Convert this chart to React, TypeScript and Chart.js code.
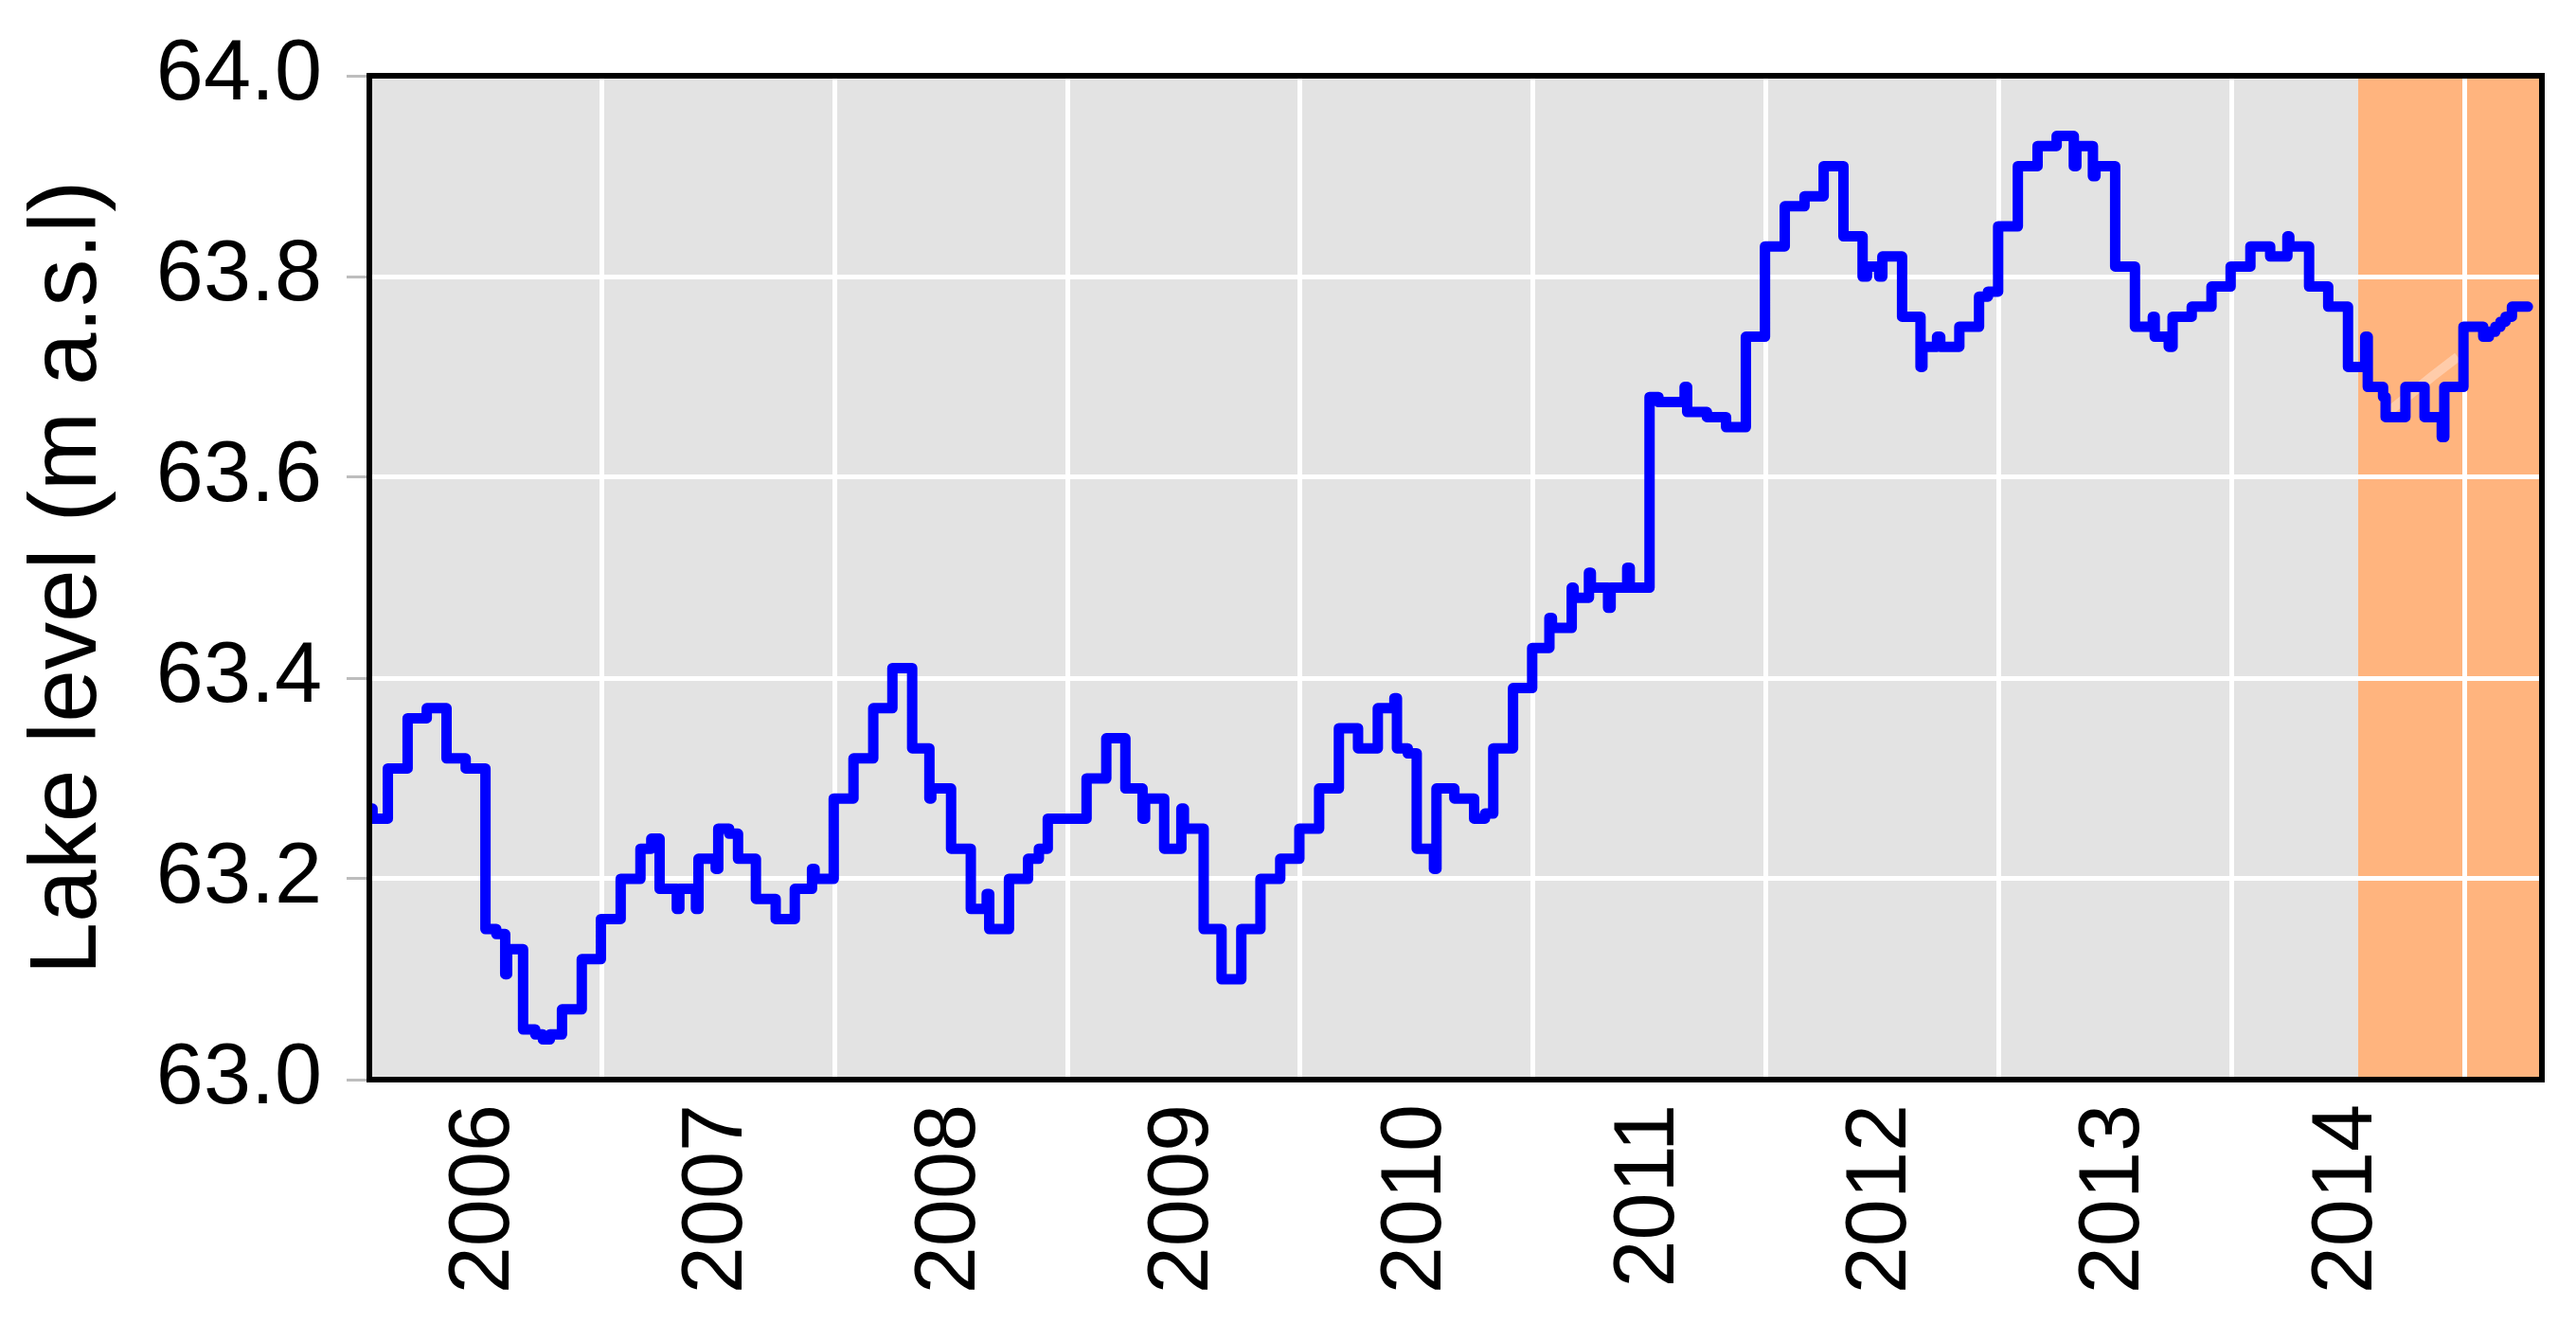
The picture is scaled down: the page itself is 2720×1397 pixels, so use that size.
import React, { useEffect, useRef } from 'react';
import { Chart, registerables } from 'chart.js';

Chart.register(...registerables);

// ---------- data ----------
const LEVEL_DATES = [
  '2005-07-01', '2005-07-08', '2005-08-01', '2005-09-01', '2005-10-01', '2005-11-01', '2005-12-01',
  '2006-01-01', '2006-01-18', '2006-02-01', '2006-02-04', '2006-03-01', '2006-03-20', '2006-04-01', '2006-04-12',
  '2006-05-01', '2006-06-01', '2006-07-01', '2006-08-01', '2006-09-01', '2006-09-18', '2006-10-01', '2006-10-28',
  '2006-11-01', '2006-11-27', '2006-12-01', '2006-12-28',
  '2007-01-01', '2007-01-18', '2007-02-01', '2007-03-01', '2007-04-01', '2007-05-01', '2007-05-28', '2007-06-01',
  '2007-07-01', '2007-08-01', '2007-09-01', '2007-10-01', '2007-11-01', '2007-11-28', '2007-12-01',
  '2008-01-01', '2008-02-01', '2008-02-26', '2008-03-01', '2008-04-01', '2008-05-01', '2008-05-18', '2008-06-01',
  '2008-07-01', '2008-08-01', '2008-09-01', '2008-10-01', '2008-10-28', '2008-11-01', '2008-12-01', '2008-12-28',
  '2009-01-01', '2009-02-01', '2009-03-01', '2009-04-01', '2009-05-01', '2009-06-01', '2009-07-01', '2009-08-01',
  '2009-09-01', '2009-10-01', '2009-11-01', '2009-11-27', '2009-12-01', '2009-12-18',
  '2010-01-01', '2010-01-28', '2010-02-01', '2010-03-01', '2010-04-01', '2010-04-18', '2010-05-01', '2010-06-01',
  '2010-07-01', '2010-07-28', '2010-08-01', '2010-09-01', '2010-09-04', '2010-09-28', '2010-10-01', '2010-10-28',
  '2010-11-01', '2010-11-27', '2010-12-01',
  '2011-01-01', '2011-01-15', '2011-02-01', '2011-02-25', '2011-03-01', '2011-04-01', '2011-05-01', '2011-06-01',
  '2011-07-01', '2011-08-01', '2011-09-01', '2011-10-01', '2011-11-01', '2011-12-01', '2011-12-08', '2011-12-27',
  '2012-01-01', '2012-02-01', '2012-03-01', '2012-03-04', '2012-03-27', '2012-04-01', '2012-05-01', '2012-06-01',
  '2012-06-15', '2012-07-01', '2012-08-01', '2012-09-01', '2012-10-01', '2012-10-28', '2012-11-01', '2012-11-27',
  '2012-12-01',
  '2013-01-01', '2013-02-01', '2013-03-01', '2013-03-04', '2013-03-26', '2013-04-01', '2013-05-01', '2013-06-01',
  '2013-07-01', '2013-08-01', '2013-09-01', '2013-09-28', '2013-10-01', '2013-11-01', '2013-12-01',
  '2014-01-01', '2014-01-28', '2014-02-01', '2014-02-25', '2014-03-01', '2014-04-01', '2014-05-01', '2014-05-28',
  '2014-06-01', '2014-07-01', '2014-08-01', '2014-08-10', '2014-08-20', '2014-08-28', '2014-09-05', '2014-09-15',
  '2014-10-10',
];

const LEVELS = [
  63.27, 63.26, 63.31, 63.36, 63.37, 63.32, 63.31,
  63.15, 63.145, 63.105, 63.13, 63.05, 63.045, 63.04, 63.045,
  63.07, 63.12, 63.16, 63.20, 63.23, 63.24, 63.19, 63.17,
  63.19, 63.17, 63.22, 63.21,
  63.25, 63.245, 63.22, 63.18, 63.16, 63.19, 63.21, 63.20,
  63.28, 63.32, 63.37, 63.41, 63.33, 63.28, 63.29,
  63.23, 63.17, 63.185, 63.15, 63.20, 63.22, 63.23, 63.26,
  63.26, 63.30, 63.34, 63.29, 63.26, 63.28, 63.23, 63.27,
  63.25, 63.15, 63.10, 63.15, 63.20, 63.22, 63.25, 63.29,
  63.35, 63.33, 63.37, 63.38, 63.33, 63.325,
  63.23, 63.21, 63.29, 63.28, 63.26, 63.265, 63.33, 63.39,
  63.43, 63.46, 63.45, 63.49, 63.48, 63.505, 63.49, 63.47,
  63.49, 63.51, 63.49,
  63.68, 63.675, 63.675, 63.69, 63.665, 63.66, 63.65, 63.74,
  63.83, 63.87, 63.88, 63.91, 63.84, 63.80, 63.81, 63.80,
  63.82, 63.76, 63.71, 63.73, 63.74, 63.73, 63.75, 63.78,
  63.785, 63.85, 63.91, 63.93, 63.94, 63.91, 63.93, 63.90,
  63.91,
  63.81, 63.75, 63.76, 63.74, 63.73, 63.76, 63.77, 63.79,
  63.81, 63.83, 63.82, 63.84, 63.83, 63.79, 63.77,
  63.71, 63.74, 63.69, 63.68, 63.66, 63.69, 63.66, 63.64,
  63.69, 63.75, 63.74, 63.745, 63.75, 63.755, 63.76, 63.77,
  63.77,
];

// faint (light peach) trace visible under the blue line in 2014
const FAINT_DATES = ['2014-03-05', '2014-05-12', '2014-06-22'];
const FAINT_LEVELS = [63.665, 63.70, 63.72];

const YEAR_TICKS = [2006, 2007, 2008, 2009, 2010, 2011, 2012, 2013, 2014];
const YEAR_GRID = [2006.5, 2007.5, 2008.5, 2009.5, 2010.5, 2011.5, 2012.5, 2013.5, 2014.5];
const Y_GRID = [63.0, 63.1, 63.2, 63.3, 63.4, 63.5, 63.6, 63.7, 63.8, 63.9, 64.0];
const Y_LABELS = ['63.0', '63.2', '63.4', '63.6', '63.8', '64.0'];
const X_MIN_DATE = '2005-07-03';
const X_MAX_DATE = '2014-11-01';
const HIGHLIGHT_START_DATE = '2014-01-17';
const Y_TITLE = 'Lake level (m a.s.l)';

// ---------- styles ----------
const FONT = "'Liberation Sans', Arial, sans-serif";
const PANEL_GRAY = '#E3E3E3';
const HIGHLIGHT = '#FFB47E';
const LINE_BLUE = '#0000FF';
const FAINT_COLOR = 'rgb(255,204,170)';

function toDecimalYear(s: string): number {
  const [y, m, d] = s.split('-').map(Number);
  const start = Date.UTC(y, 0, 1);
  const end = Date.UTC(y + 1, 0, 1);
  return y + (Date.UTC(y, m - 1, d) - start) / (end - start);
}

export default function App() {
  const ref = useRef<HTMLCanvasElement>(null);

  useEffect(() => {
    document.body.style.margin = '0';
    const canvas = ref.current;
    if (!canvas) return;
    const xMin = toDecimalYear(X_MIN_DATE);
    const xMax = toDecimalYear(X_MAX_DATE);
    const hlStart = toDecimalYear(HIGHLIGHT_START_DATE);

    const panelPlugin = {
      id: 'panelPlugin',
      beforeDraw(chart: any) {
        const { ctx, chartArea: a, scales } = chart;
        ctx.save();
        ctx.fillStyle = PANEL_GRAY;
        ctx.fillRect(a.left, a.top, a.right - a.left, a.bottom - a.top);
        const hx = scales.x.getPixelForValue(hlStart);
        ctx.fillStyle = HIGHLIGHT;
        ctx.fillRect(hx, a.top, a.right - hx, a.bottom - a.top);
        ctx.restore();
      },
      afterDraw(chart: any) {
        const { ctx, chartArea: a } = chart;
        ctx.save();
        ctx.strokeStyle = '#000';
        ctx.lineWidth = 6;
        ctx.strokeRect(a.left, a.top, a.right - a.left, a.bottom - a.top);
        ctx.restore();
      },
    };

    const chart = new Chart(canvas, {
      type: 'line',
      data: {
        datasets: [
          {
            data: LEVEL_DATES.map((d, i) => ({ x: toDecimalYear(d), y: LEVELS[i] })),
            stepped: true,
            borderColor: LINE_BLUE,
            borderWidth: 11,
            pointRadius: 0,
            fill: false,
            borderJoinStyle: 'round',
            borderCapStyle: 'round',
            xAxisID: 'x',
            yAxisID: 'y',
          },
          {
            data: FAINT_DATES.map((d, i) => ({ x: toDecimalYear(d), y: FAINT_LEVELS[i] })),
            borderColor: FAINT_COLOR,
            borderWidth: 10,
            pointRadius: 0,
            fill: false,
            xAxisID: 'x',
            yAxisID: 'y',
          },
        ],
      },
      options: {
        animation: false,
        responsive: false,
        devicePixelRatio: 1,
        layout: { padding: { top: 73, right: 36, bottom: 0, left: 0 } },
        plugins: { legend: { display: false }, tooltip: { enabled: false } },
        scales: {
          x: {
            type: 'linear',
            position: 'bottom',
            min: xMin,
            max: xMax,
            afterBuildTicks: (s: any) => {
              s.ticks = YEAR_TICKS.map((v) => ({ value: v }));
            },
            afterFit: (s: any) => {
              s.height = 257;
            },
            grid: { display: false },
            border: { display: false },
            ticks: {
              autoSkip: false,
              minRotation: 90,
              maxRotation: 90,
              padding: 18,
              color: '#000',
              font: { family: FONT, size: 90 },
              callback: (v: any) => String(v),
            },
          },
          x2: {
            type: 'linear',
            position: 'bottom',
            min: xMin,
            max: xMax,
            afterBuildTicks: (s: any) => {
              s.ticks = YEAR_GRID.map((v) => ({ value: v }));
            },
            afterFit: (s: any) => {
              s.height = 0;
            },
            ticks: { display: false },
            grid: { color: '#FFFFFF', lineWidth: 5, drawTicks: false },
            border: { display: false },
          },
          y: {
            type: 'linear',
            min: 63,
            max: 64,
            afterBuildTicks: (s: any) => {
              s.ticks = Y_GRID.map((v) => ({ value: v }));
            },
            afterFit: (s: any) => {
              s.width = 390;
            },
            grid: {
              color: '#FFFFFF',
              lineWidth: 5,
              tickLength: 24,
              tickWidth: 3,
              tickColor: (c: any) =>
                c.tick && Y_LABELS.includes(Number(c.tick.value).toFixed(1)) ? '#BDBDBD' : '#333333',
            },
            border: { display: false },
            ticks: {
              padding: 26,
              color: '#000',
              font: { family: FONT, size: 90 },
              callback: (v: any) => {
                const s = Number(v).toFixed(1);
                return Y_LABELS.includes(s) ? s : '';
              },
            },
            title: {
              display: true,
              text: Y_TITLE,
              color: '#000',
              font: { family: FONT, size: 100 },
              padding: { top: 13, bottom: 0 },
            },
          },
        },
      },
      plugins: [panelPlugin],
    } as any);

    return () => chart.destroy();
  }, []);

  return (
    <div style={{ position: 'fixed', left: 0, top: 0, width: 2720, height: 1397, background: '#fff' }}>
      <canvas ref={ref} width={2720} height={1397} style={{ display: 'block' }} />
    </div>
  );
}
